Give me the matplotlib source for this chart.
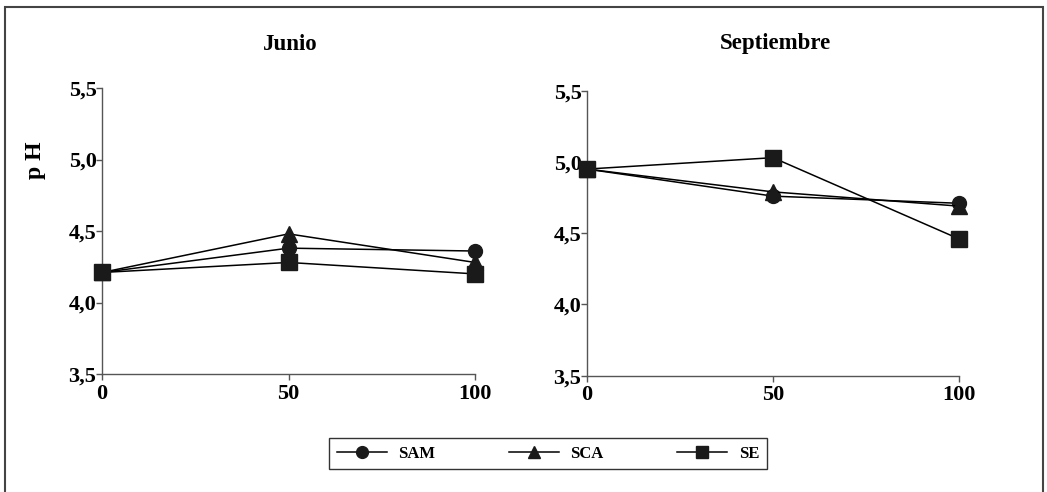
import matplotlib.pyplot as plt
from matplotlib.patches import Rectangle
from matplotlib.ticker import FuncFormatter

plt.rcParams['font.family'] = ['Liberation Serif', 'DejaVu Serif']
plt.rcParams['font.weight'] = 'bold'

x = [0, 50, 100]
titles = ["Junio", "Septiembre"]
labels = ["SAM", "SCA", "SE"]

# pH values per month and series
junio = {
    "SAM": [4.21, 4.38, 4.36],
    "SCA": [4.21, 4.48, 4.28],
    "SE": [4.21, 4.28, 4.20],
}
septiembre = {
    "SAM": [4.95, 4.76, 4.71],
    "SCA": [4.95, 4.79, 4.69],
    "SE": [4.95, 5.03, 4.46],
}

markers = {"SAM": ("o", 10), "SCA": ("^", 11), "SE": ("s", 11)}

fig = plt.figure(figsize=(10.47, 4.92), dpi=100)

ax1 = fig.add_axes([102 / 1047, 1 - 374 / 492, 373 / 1047, 286 / 492])
ax2 = fig.add_axes([587 / 1047, 1 - 375.7 / 492, 372 / 1047, 285 / 492])

fmt = FuncFormatter(lambda v, p: f"{v:.1f}".replace(".", ","))

for ax, data, title in zip([ax1, ax2], [junio, septiembre], titles):
    for name in labels:
        m, ms = markers[name]
        ax.plot(x, data[name], color="black", linewidth=1.1, marker=m,
                markersize=ms, markerfacecolor="#1a1a1a", markeredgecolor="#1a1a1a",
                clip_on=False, label=name, zorder=3)
    ax.set_xlim(0, 100)
    ax.set_ylim(3.5, 5.5)
    ax.set_xticks([0, 50, 100])
    ax.set_yticks([3.5, 4.0, 4.5, 5.0, 5.5])
    ax.yaxis.set_major_formatter(fmt)
    for s in ["top", "right"]:
        ax.spines[s].set_visible(False)
    for s in ["left", "bottom"]:
        ax.spines[s].set_color("#555555")
        ax.spines[s].set_linewidth(1.0)
    ax.tick_params(axis="both", length=4, width=1, color="#555555",
                   labelsize=16, pad=0)
    for lab in ax.get_xticklabels() + ax.get_yticklabels():
        lab.set_fontweight("bold")
    ax.tick_params(axis="x", pad=3)

fig.text(290 / 1047, 1 - 44 / 492, titles[0], ha="center", va="center",
         fontsize=16.5, fontweight="bold")
fig.text(775 / 1047, 1 - 44 / 492, titles[1], ha="center", va="center",
         fontsize=16.5, fontweight="bold")
fig.text(36 / 1047, 1 - 160 / 492, "p H", ha="center", va="center",
         rotation=90, fontsize=17, fontweight="bold")

handles, hlabels = ax1.get_legend_handles_labels()
leg = fig.legend(handles, hlabels, loc="center", ncol=3,
                 bbox_to_anchor=(548 / 1047, 1 - 453.5 / 492),
                 frameon=True, fancybox=False, edgecolor="black",
                 fontsize=12, handlelength=3.0, handletextpad=0.7,
                 columnspacing=4.4, markerscale=0.85, borderpad=0.45)
leg.get_frame().set_linewidth(1.0)
for t in leg.get_texts():
    t.set_fontweight("bold")

# outer frame
fig.patches.append(Rectangle((5 / 1047, -0.05), 1038 / 1047, 1.05 - 7 / 492,
                             transform=fig.transFigure, fill=False,
                             edgecolor="#444444", linewidth=1.5))

fig.savefig("out.png", dpi=100)
